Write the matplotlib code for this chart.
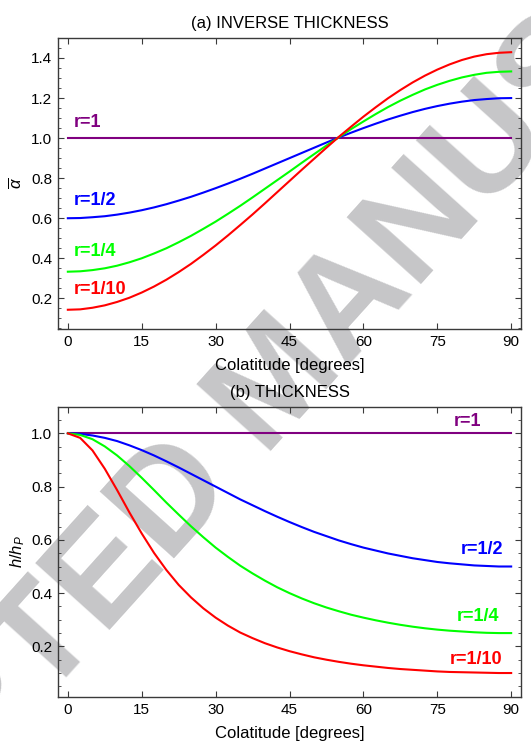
import matplotlib
matplotlib.use('Agg')
import matplotlib.pyplot as plt
from matplotlib.ticker import MultipleLocator

plt.rcParams['font.family'] = ['Liberation Sans', 'DejaVu Sans']
plt.rcParams['mathtext.fontset'] = 'custom'
plt.rcParams['mathtext.it'] = 'Liberation Sans:italic'
plt.rcParams['mathtext.rm'] = 'Liberation Sans'

# colatitude in degrees (every 2.5)
theta = [0, 2.5, 5, 7.5, 10, 12.5, 15, 17.5, 20, 22.5, 25, 27.5, 30, 32.5, 35, 37.5,
         40, 42.5, 45, 47.5, 50, 52.5, 55, 57.5, 60, 62.5, 65, 67.5, 70, 72.5, 75,
         77.5, 80, 82.5, 85, 87.5, 90]

# (a) inverse thickness
alpha_r1 = [1.0] * 37
alpha_r2 = [0.600, 0.601, 0.605, 0.610, 0.618, 0.628, 0.640, 0.654, 0.670, 0.688,
            0.707, 0.728, 0.750, 0.773, 0.797, 0.822, 0.848, 0.874, 0.900, 0.926,
            0.952, 0.978, 1.003, 1.027, 1.050, 1.072, 1.093, 1.112, 1.130, 1.146,
            1.160, 1.172, 1.182, 1.190, 1.195, 1.199, 1.200]
alpha_r4 = [0.333, 0.335, 0.341, 0.350, 0.363, 0.380, 0.400, 0.424, 0.450, 0.480,
            0.512, 0.547, 0.583, 0.622, 0.662, 0.704, 0.747, 0.790, 0.833, 0.877,
            0.920, 0.963, 1.004, 1.045, 1.083, 1.120, 1.155, 1.187, 1.216, 1.243,
            1.266, 1.286, 1.303, 1.316, 1.326, 1.331, 1.333]
alpha_r10 = [0.143, 0.145, 0.153, 0.165, 0.182, 0.203, 0.229, 0.259, 0.293, 0.331,
             0.372, 0.417, 0.464, 0.514, 0.566, 0.619, 0.674, 0.730, 0.786, 0.842,
             0.897, 0.952, 1.006, 1.057, 1.107, 1.154, 1.199, 1.240, 1.278, 1.312,
             1.342, 1.368, 1.390, 1.407, 1.419, 1.426, 1.429]

# (b) thickness
h_r1 = [1.0] * 37
h_r2 = [1.000, 0.998, 0.992, 0.983, 0.971, 0.955, 0.937, 0.917, 0.895, 0.872,
        0.848, 0.824, 0.800, 0.776, 0.752, 0.730, 0.708, 0.687, 0.667, 0.648,
        0.630, 0.614, 0.598, 0.584, 0.571, 0.560, 0.549, 0.540, 0.531, 0.524,
        0.517, 0.512, 0.508, 0.504, 0.502, 0.500, 0.500]
h_r4 = [1.000, 0.994, 0.978, 0.951, 0.917, 0.877, 0.833, 0.787, 0.740, 0.695,
        0.651, 0.610, 0.571, 0.536, 0.503, 0.474, 0.447, 0.422, 0.400, 0.380,
        0.362, 0.346, 0.332, 0.319, 0.308, 0.298, 0.289, 0.281, 0.274, 0.268,
        0.263, 0.259, 0.256, 0.253, 0.251, 0.250, 0.250]
h_r10 = [1.000, 0.983, 0.936, 0.867, 0.787, 0.703, 0.624, 0.551, 0.487, 0.431,
         0.384, 0.343, 0.308, 0.278, 0.252, 0.231, 0.212, 0.196, 0.182, 0.170,
         0.159, 0.150, 0.142, 0.135, 0.129, 0.124, 0.119, 0.115, 0.112, 0.109,
         0.106, 0.104, 0.103, 0.102, 0.101, 0.100, 0.100]

PURPLE = (0.5, 0.0, 0.5)
BLUE = (0.0, 0.0, 1.0)
GREEN = (0.0, 1.0, 0.0)
RED = (1.0, 0.0, 0.0)
FRAME = '#3a3a3a'

fig = plt.figure(figsize=(5.31, 7.46), dpi=100)

# watermark, behind the axes
fig.text(0.528, 0.484, 'ACCEPTED MANUSCRIPT', fontsize=104, fontweight='bold',
         color='#c6c6c8', rotation=48, ha='center', va='center', zorder=-1)

ax1 = fig.add_axes([0.1092, 0.5590, 0.8720, 0.3901])
ax2 = fig.add_axes([0.1092, 0.0657, 0.8720, 0.3891])


def style(ax):
    ax.patch.set_alpha(0)
    ax.set_xlim(-2, 92)
    ax.xaxis.set_major_locator(MultipleLocator(15))
    ax.yaxis.set_major_locator(MultipleLocator(0.2))
    ax.yaxis.set_minor_locator(MultipleLocator(0.05))
    ax.tick_params(which='both', direction='in', top=True, right=True,
                   color=FRAME, labelsize=11, pad=4)
    ax.tick_params(which='major', length=4, width=0.8)
    ax.tick_params(which='minor', length=2, width=0.6)
    for s in ax.spines.values():
        s.set_color(FRAME)
        s.set_linewidth(1.0)


for ax in (ax1, ax2):
    style(ax)

lw = 1.5
ax1.plot(theta, alpha_r1, color=PURPLE, lw=lw)
ax1.plot(theta, alpha_r2, color=BLUE, lw=lw)
ax1.plot(theta, alpha_r4, color=GREEN, lw=lw)
ax1.plot(theta, alpha_r10, color=RED, lw=lw)
ax1.set_ylim(0.047, 1.5)
ax1.set_title('(a) INVERSE THICKNESS', fontsize=12, pad=7)
ax1.set_xlabel('Colatitude [degrees]', fontsize=12, labelpad=7)
ax1.set_ylabel(r'$\overline{\alpha}$', fontsize=12, labelpad=5)

lab = dict(fontsize=13, fontweight='bold', va='center')
ax1.text(1.3, 1.077, 'r=1', color=PURPLE, ha='left', **lab)
ax1.text(1.3, 0.69, 'r=1/2', color=BLUE, ha='left', **lab)
ax1.text(1.3, 0.433, 'r=1/4', color=GREEN, ha='left', **lab)
ax1.text(1.3, 0.245, 'r=1/10', color=RED, ha='left', **lab)

ax2.plot(theta, h_r1, color=PURPLE, lw=lw)
ax2.plot(theta, h_r2, color=BLUE, lw=lw)
ax2.plot(theta, h_r4, color=GREEN, lw=lw)
ax2.plot(theta, h_r10, color=RED, lw=lw)
ax2.set_ylim(0.01, 1.1)
ax2.set_title('(b) THICKNESS', fontsize=12, pad=7)
ax2.set_xlabel('Colatitude [degrees]', fontsize=12, labelpad=7)
ax2.set_ylabel(r'$h/h_P$', fontsize=12, labelpad=3)

ax2.text(84, 1.043, 'r=1', color=PURPLE, ha='right', **lab)
ax2.text(88.3, 0.565, 'r=1/2', color=BLUE, ha='right', **lab)
ax2.text(87.5, 0.313, 'r=1/4', color=GREEN, ha='right', **lab)
ax2.text(88.3, 0.151, 'r=1/10', color=RED, ha='right', **lab)

fig.savefig('out.png', dpi=100)
